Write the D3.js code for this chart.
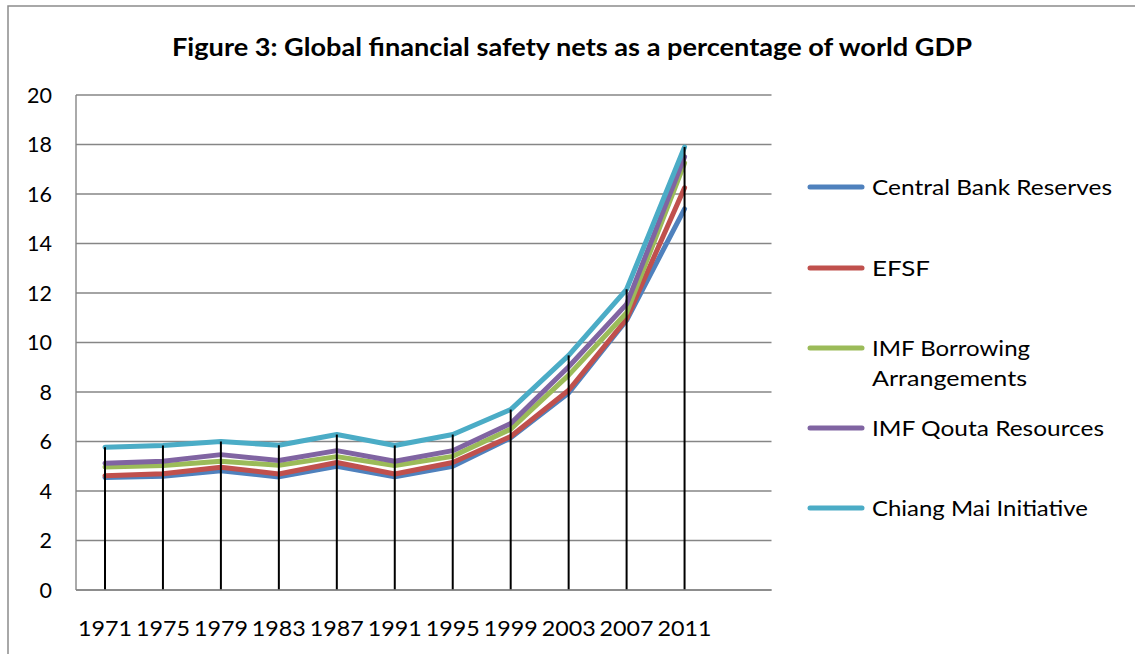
<!DOCTYPE html>
<html><head><meta charset="utf-8">
<script src="https://cdn.jsdelivr.net/npm/d3@7"></script>
<style>html,body{margin:0;padding:0;background:#fff;}svg{display:block;}</style>
</head><body>
<svg id="chart" width="1135" height="654"></svg>
<script>
const years = ["1971","1975","1979","1983","1987","1991","1995","1999","2003","2007","2011"];
const seriesNames = ["Central Bank Reserves","EFSF","IMF Borrowing Arrangements","IMF Qouta Resources","Chiang Mai Initiative"];
const centralBank = [4.55,4.6,4.82,4.57,5.0,4.57,5.0,6.15,7.96,10.9,15.4];
const efsf        = [4.62,4.7,4.96,4.69,5.15,4.69,5.15,6.2,8.07,10.95,16.25];
const imfBorrow   = [4.97,5.03,5.2,5.04,5.39,5.03,5.4,6.5,8.68,11.2,17.25];
const imfQuota    = [5.12,5.2,5.47,5.23,5.63,5.2,5.63,6.73,9.02,11.55,17.5];
const chiangMai   = [5.77,5.84,6.0,5.85,6.28,5.84,6.28,7.29,9.48,12.15,17.9];
const yTicks = [0,2,4,6,8,10,12,14,16,18,20];
const colors = ["#4F81BD","#C0504D","#9BBB59","#8064A2","#4BACC6"];
const title = "Figure 3: Global financial safety nets as a percentage of world GDP";

const allSeries = [centralBank, efsf, imfBorrow, imfQuota, chiangMai];
const svg = d3.select("#chart");
const font = "Lato, 'Open Sans', sans-serif";

// border
svg.append("path").attr("d","M8,654 L8,6 L1135,6").attr("fill","none").attr("stroke","#8c8c8c").attr("stroke-width",1.5);

const x = d3.scaleBand().domain(years.concat([""])).range([76, 771.5]).padding(0);
const y = d3.scaleLinear().domain([0,20]).range([590, 95]);

// gridlines
svg.append("g").selectAll("line").data(yTicks).join("line")
  .attr("x1",76).attr("x2",771.5).attr("y1",d=>y(d)).attr("y2",d=>y(d))
  .attr("stroke","#868686").attr("stroke-width",1.4);

svg.append("line").attr("x1",76).attr("x2",76).attr("y1",y(20)).attr("y2",y(0)).attr("stroke","#868686").attr("stroke-width",1.4);

// y labels
svg.append("g").selectAll("text").data(yTicks).join("text")
  .attr("x",52).attr("y",d=>y(d)).attr("dy","0.36em").attr("text-anchor","end")
  .attr("font-family",font).attr("font-size",21.5).attr("fill","#000").text(d=>d);

// x labels
svg.append("g").selectAll("text").data(years).join("text")
  .attr("x",d=>x(d)+x.bandwidth()/2).attr("y",636).attr("text-anchor","middle")
  .attr("font-family",font).attr("font-size",21.5).attr("fill","#000")
  .attr("textLength",54).attr("lengthAdjust","spacingAndGlyphs").text(d=>d);

// series lines
const line = d3.line().x((d,i)=>x(years[i])+x.bandwidth()/2).y(d=>y(d));
svg.append("g").selectAll("path").data(allSeries).join("path")
  .attr("d",d=>line(d)).attr("fill","none").attr("stroke",(d,i)=>colors[i])
  .attr("stroke-width",5).attr("stroke-linejoin","round").attr("stroke-linecap","round");

// drop lines
svg.append("g").selectAll("line").data(years).join("line")
  .attr("x1",d=>x(d)+x.bandwidth()/2).attr("x2",d=>x(d)+x.bandwidth()/2)
  .attr("y1",(d,i)=>y(d3.max(allSeries, s=>s[i]))).attr("y2",y(0))
  .attr("stroke","#000").attr("stroke-width",2);

svg.append("line").attr("x1",76).attr("x2",771.5).attr("y1",y(0)).attr("y2",y(0)).attr("stroke","#868686").attr("stroke-width",1.4);

// title
svg.append("text").attr("x",572).attr("y",56).attr("text-anchor","middle")
  .attr("font-family",font).attr("font-weight","bold").attr("font-size",24.5).attr("fill","#000")
  .attr("textLength",800).attr("lengthAdjust","spacingAndGlyphs").text(title);

// legend
const legY = [187,268,348,428,508];
const legLen = {"Central Bank Reserves":240,"EFSF":58,"IMF Borrowing":158,"Arrangements":155,"IMF Qouta Resources":232,"Chiang Mai Initiative":216};
const lg = svg.append("g").selectAll("g").data(seriesNames).join("g")
  .attr("transform",(d,i)=>`translate(0,${legY[i]})`);
lg.append("line").attr("x1",810).attr("x2",862).attr("y1",0).attr("y2",0)
  .attr("stroke",(d,i)=>colors[i]).attr("stroke-width",5).attr("stroke-linecap","round");
lg.each(function(d){
  const g = d3.select(this);
  const parts = d === "IMF Borrowing Arrangements" ? ["IMF Borrowing","Arrangements"] : [d];
  parts.forEach((p,j)=>{
    g.append("text").attr("x",872).attr("y",j*30).attr("dy","0.36em")
      .attr("font-family",font).attr("font-size",21.5).attr("fill","#000")
      .attr("textLength",legLen[p]).attr("lengthAdjust","spacingAndGlyphs").text(p);
  });
});
</script>
</body></html>
